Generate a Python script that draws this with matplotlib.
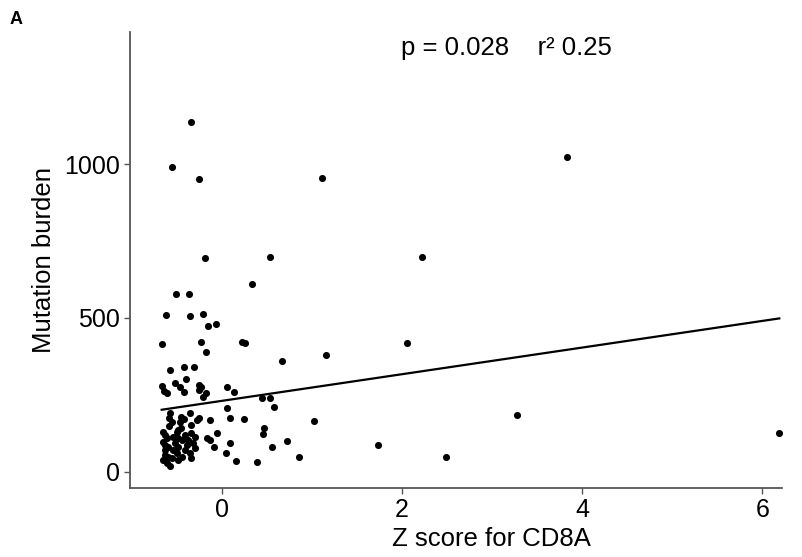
import matplotlib
matplotlib.use("Agg")
import matplotlib.pyplot as plt
import numpy as np

plt.rcParams['font.family'] = ['Liberation Sans', 'DejaVu Sans']

# Z score for CD8A (x) and mutation burden (y)
z_score = [
    -0.34, -0.55, -0.26, 1.11, -0.19, 0.53, 3.83, 2.22, 0.33, -0.51,
    -0.37, -0.62, -0.36, -0.21, -0.16, -0.07, -0.67, -0.23, -0.18, 0.22,
    0.26, 2.05, 1.15, 0.67, -0.58, -0.42, -0.31, -0.40, -0.67, -0.64,
    -0.61, -0.52, -0.47, -0.42, -0.26, -0.23, -0.26, -0.18, -0.21, 0.05,
    0.13, 0.44, 0.53, 0.58, 0.05, -0.58, -0.59, -0.56, -0.46, -0.42,
    -0.47, -0.36, -0.28, -0.26, -0.13, 0.09, 0.24, 1.025, 3.28, -0.59,
    -0.49, -0.45, -0.34, -0.06, 0.47, 0.45, -0.17, -0.13, 0.09, 0.72,
    0.56, -0.09, 0.04, 0.16, 0.39, 0.86, 1.73, 2.49, 6.19,
    -0.65, -0.633, -0.615, -0.65, -0.633, -0.596, -0.633, -0.633, -0.596, -0.65,
    -0.615, -0.578, -0.50, -0.54, -0.485, -0.448, -0.52, -0.485, -0.54, -0.50,
    -0.56, -0.485, -0.448, -0.41, -0.374, -0.34, -0.30, -0.32, -0.39, -0.41,
    -0.356, -0.30, -0.34,
]
mutation_burden = [
    1138, 992, 952, 954, 695, 698, 1023, 699, 610, 578,
    578, 510, 506, 513, 474, 479, 414, 422, 390, 422,
    420, 418, 379, 361, 332, 342, 342, 302, 279, 264,
    255, 288, 277, 260, 282, 275, 266, 255, 244, 275,
    258, 241, 241, 209, 206, 190, 174, 163, 177, 170,
    163, 192, 168, 174, 167, 174, 170, 165, 184, 149,
    136, 141, 152, 127, 143, 122, 109, 103, 92, 101,
    79, 79, 62, 36, 33, 47, 86, 47, 125,
    130, 119, 109, 98, 87, 81, 71, 54, 49, 38,
    27, 19, 130, 114, 109, 103, 92, 81, 71, 60,
    44, 38, 49, 119, 103, 125, 114, 92, 87, 71,
    60, 76, 44,
]

# Regression line (intercept, slope)
fit_intercept = 230.5
fit_slope = 43.3

x_ticks = [0, 2, 4, 6]
y_ticks = [0, 500, 1000]
stats_text = "p = 0.028    r\u00b2 0.25"

W, H = 802, 557
fig = plt.figure(figsize=(W / 100, H / 100), dpi=100)
left, right, top, bottom = 130, 782, 32, 488
ax = fig.add_axes([left / W, 1 - bottom / H, (right - left) / W, (bottom - top) / H])

ax.scatter(z_score, mutation_burden, s=26, color='black', linewidths=0, zorder=3)

xs = np.array([min(z_score), max(z_score)])
ax.plot(xs, fit_intercept + fit_slope * xs, color='black', lw=1.6, zorder=2)

ax.set_xlim(-1.022, 6.22)
ax.set_ylim(-53, 1430)
ax.set_xticks(x_ticks)
ax.set_yticks(y_ticks)

for s in ['top', 'right']:
    ax.spines[s].set_visible(False)
for s in ['left', 'bottom']:
    ax.spines[s].set_color('#555555')
    ax.spines[s].set_linewidth(1.3)

ax.tick_params(axis='both', length=4, width=1, color='#555555',
               labelsize=18, labelcolor='black', pad=3)

ax.set_xlabel("Z score for CD8A", fontsize=18.5, labelpad=3)
ax.xaxis.set_label_coords((491 - left) / (right - left), -0.085)
ax.set_ylabel("Mutation burden", fontsize=18.5, labelpad=6)

fig.text(506 / W, 1 - 48 / H, stats_text, fontsize=18.5,
         ha='center', va='center')
fig.text(10 / W, 1 - 20 / H, "A", fontsize=13, fontweight='bold',
         ha='left', va='center')

fig.savefig("out.png", dpi=100)
